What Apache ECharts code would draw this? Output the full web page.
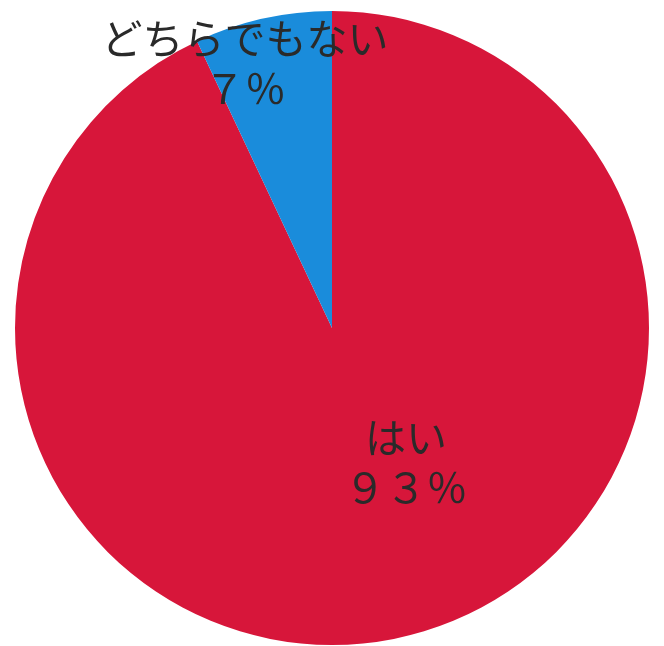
<!DOCTYPE html>
<html><head><meta charset="utf-8">
<script src="https://cdn.jsdelivr.net/npm/echarts@6/dist/echarts.min.js"></script>
<style>html,body{margin:0;padding:0;background:#fff}#c{width:664px;height:646px}</style>
</head><body><div id="c"></div>
<script>
const categories = ['はい', 'どちらでもない'];
const values = [93, 7];
const colors = ['#D7163A', '#1A8CDB'];

function fw(n){ return String(n).replace(/[0-9]/g, d => String.fromCharCode(d.charCodeAt(0) + 0xFEE0)); }

const chart = echarts.init(document.getElementById('c'));
const labelPos = [[406, 462], [245, 63]];
chart.setOption({
  animation: false,
  series: [{
    type: 'pie',
    center: [332, 328],
    radius: 317,
    startAngle: 90,
    clockwise: true,
    data: categories.map((c, i) => ({ name: c, value: values[i], itemStyle: { color: colors[i] } })),
    label: {
      show: true,
      position: 'inside',
      formatter: p => p.name + '\n' + fw(p.value) + '％',
      fontFamily: '"Noto Sans CJK JP", sans-serif',
      fontWeight: 400,
      fontSize: 41,
      lineHeight: 50,
      color: '#2a2a2a',
      align: 'center'
    },
    labelLine: { show: false },
    labelLayout: p => ({ x: labelPos[p.dataIndex][0], y: labelPos[p.dataIndex][1], align: 'center', verticalAlign: 'middle' }),
    emphasis: { disabled: true }
  }]
});
</script></body></html>
